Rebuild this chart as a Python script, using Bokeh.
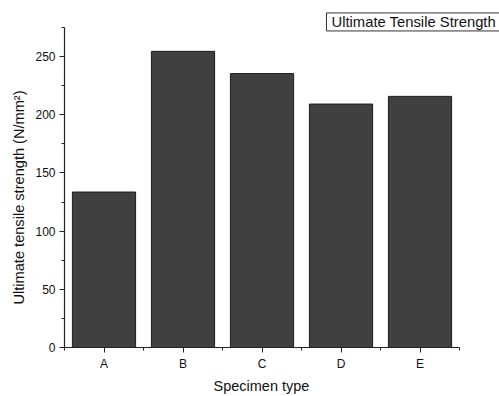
from bokeh.plotting import figure
from bokeh.models import Range1d, FixedTicker, Label, Title, ColumnDataSource
from bokeh.embed import file_html
from bokeh.resources import INLINE

categories = ["A", "B", "C", "D", "E"]
strength = [133.6, 254.5, 235.4, 209.2, 215.8]
y_ticks = [0, 50, 100, 150, 200, 250]
y_max = 275
x_title = "Specimen type"
y_title = "Ultimate tensile strength (N/mm²)"
legend_text = "Ultimate Tensile Strength"

positions = list(range(1, len(categories) + 1))
source = ColumnDataSource(dict(x=positions, top=strength, cat=categories))

FONT = "Liberation Sans"

# frame extends past the axes (axes limited by bounds) so the boxed label is not clipped
p = figure(width=499, height=396, output_backend="svg", toolbar_location=None,
           x_range=Range1d(0.5, 6.006), y_range=Range1d(0, 293.9),
           min_border_left=64, min_border_right=0, min_border_top=5, min_border_bottom=49)
p.outline_line_color = None
p.grid.visible = False

p.vbar(x="x", top="top", width=0.8, source=source,
       fill_color="#404040", line_color="#1c1c1c", line_width=1)

xa = p.xaxis[0]
xa.ticker = FixedTicker(ticks=positions, minor_ticks=[v - 0.5 for v in positions] + [positions[-1] + 0.5])
xa.major_label_overrides = {pos: c for pos, c in zip(positions, categories)}
xa.bounds = (0.5, len(categories) + 0.5)

ya = p.yaxis[0]
ya.ticker = FixedTicker(ticks=y_ticks, minor_ticks=[v + 25 for v in y_ticks])
ya.bounds = (0, y_max)

for ax in (xa, ya):
    ax.axis_line_color = "#222222"
    ax.axis_line_width = 1.2
    ax.major_tick_line_color = "#222222"
    ax.minor_tick_line_color = "#222222"
    ax.major_tick_in = 0
    ax.major_tick_out = 5
    ax.minor_tick_in = 0
    ax.minor_tick_out = 3
    ax.major_label_text_font = FONT
    ax.major_label_text_font_size = "12px"
    ax.major_label_text_color = "#111111"
    ax.major_label_standoff = 4

xt = Title(text=x_title, text_font=FONT, text_font_size="14.5px", text_font_style="normal",
           text_color="#111111", align="left", offset=149, standoff=4)
p.add_layout(xt, "below")

yt = Title(text=y_title, text_font=FONT, text_font_size="14.6px", text_font_style="normal",
           text_color="#111111", align="left", offset=43, standoff=11)
p.add_layout(yt, "left")

lbl = Label(x=3.816, y=287.5, text=legend_text, text_font=FONT, text_font_size="14.8px",
            text_color="#111111", text_align="left", text_baseline="top",
            border_line_color="#333333", border_line_width=1,
            background_fill_color="white",
            padding=dict(left=5, right=5, top=1, bottom=1))
p.add_layout(lbl)

open("out.html", "w").write(file_html(p, INLINE))
